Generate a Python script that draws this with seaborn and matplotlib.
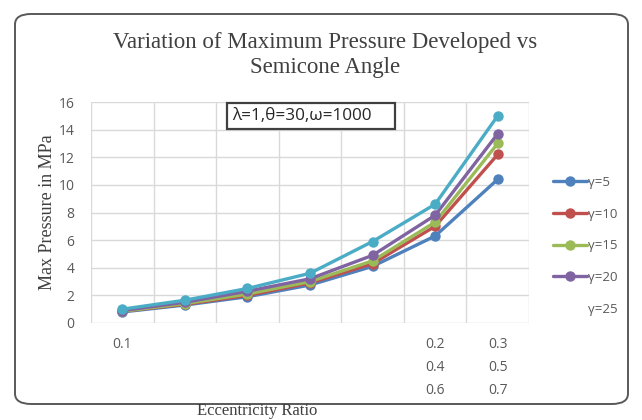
import matplotlib
matplotlib.use("Agg")
import matplotlib.pyplot as plt
from matplotlib.patches import FancyBboxPatch
import seaborn as sns
import pandas as pd

# Eccentricity ratio categories and their axis labels
positions = [0, 1, 2, 3, 4, 5, 6]
ratio_labels = ["0.1", "", "", "", "", "0.2\n0.4\n0.6", "0.3\n0.5\n0.7"]

# Max pressure (MPa) for each semicone angle gamma
p_g5 = [0.8, 1.3, 1.9, 2.75, 4.1, 6.3, 10.4]
p_g10 = [0.85, 1.35, 2.0, 2.9, 4.3, 7.0, 12.2]
p_g15 = [0.85, 1.4, 2.1, 3.0, 4.5, 7.3, 13.0]
p_g20 = [0.9, 1.5, 2.3, 3.2, 4.9, 7.8, 13.7]
p_g25 = [1.0, 1.65, 2.5, 3.6, 5.9, 8.6, 15.0]

series_names = ["γ=5", "γ=10", "γ=15", "γ=20", "γ=25"]
series_vals = [p_g5, p_g10, p_g15, p_g20, p_g25]
colors = ["#4F81BD", "#C0504D", "#9BBB59", "#8064A2", "#4BACC6"]

df = pd.concat(
    [pd.DataFrame({"pos": positions, "pressure": v, "gamma": n})
     for n, v in zip(series_names, series_vals)],
    ignore_index=True,
)

sns.set_style("white")
fig = plt.figure(figsize=(6.42, 4.2), dpi=100)
ax = fig.add_axes([91 / 642, 1 - 323 / 420, (529 - 91) / 642, (323 - 102) / 420])

sns.lineplot(data=df, x="pos", y="pressure", hue="gamma", palette=colors,
             marker="o", markersize=7.5, markeredgewidth=0, linewidth=2.4,
             ax=ax, legend=False)

ax.set_xlim(-0.5, 6.5)
ax.set_ylim(0, 16)
ax.set_yticks(range(0, 17, 2))
ax.set_xticks(positions)
ax.set_xticklabels(ratio_labels, linespacing=1.75, va="top")
ax.set_xticks([p - 0.5 for p in positions] + [6.5], minor=True)
ax.tick_params(axis="both", which="both", length=0, labelsize=10,
               labelcolor="#595959", pad=10)
ax.tick_params(axis="y", pad=12)
for lab in ax.get_xticklabels() + ax.get_yticklabels():
    lab.set_family("Open Sans")

ax.grid(False)
ax.yaxis.grid(True, color="#D9D9D9", linewidth=1)
ax.xaxis.grid(True, which="minor", color="#D9D9D9", linewidth=1)
for s in ax.spines.values():
    s.set_visible(False)
ax.set_xlabel("")
ax.set_ylabel("")
ax.set_axisbelow(True)

# Legend at the right of the plot area
handles = ax.get_lines()[:5]
leg = fig.legend(handles, series_names, loc="upper left",
                 bbox_to_anchor=(541 / 642, 1 - 164 / 420), frameon=False,
                 handlelength=2.6, handletextpad=0.1, labelspacing=1.42,
                 prop={"family": "Open Sans", "size": 9.5})
for t in leg.get_texts():
    t.set_color("#595959")
leg.legend_handles[4].set_visible(False)

# Parameter box
ax.text(0.322, 0.935, "λ=1,θ=30,ω=1000    ", transform=ax.transAxes,
        fontsize=12.3, family="Open Sans", color="#262626", va="center",
        ha="left",
        bbox=dict(boxstyle="square,pad=0.3", facecolor="white",
                  edgecolor="#404040", linewidth=1.6))

# Titles and axis label text
fig.text(0.506, 1 - 55 / 420, "Variation of Maximum Pressure Developed vs\nSemicone Angle",
         ha="center", va="center", family="Liberation Serif", fontsize=16.5,
         color="#404040", linespacing=1.3)
fig.text(48 / 642, 1 - 212 / 420, "Max Pressure in MPa", rotation=90,
         ha="center", va="center", family="Liberation Serif", fontsize=13,
         color="#404040")
fig.text(257 / 642, 1 - 411 / 420, "Eccentricity Ratio", ha="center",
         va="center", family="Liberation Serif", fontsize=12, color="#404040")

# Rounded chart border
border = FancyBboxPatch((15 / 642, 1 - 404 / 420), 613 / 642, 390 / 420,
                        boxstyle="round,pad=0,rounding_size=0.025",
                        transform=fig.transFigure, fill=False,
                        edgecolor="#595959", linewidth=1.4)
fig.patches.append(border)

fig.savefig("out.png", dpi=100)
